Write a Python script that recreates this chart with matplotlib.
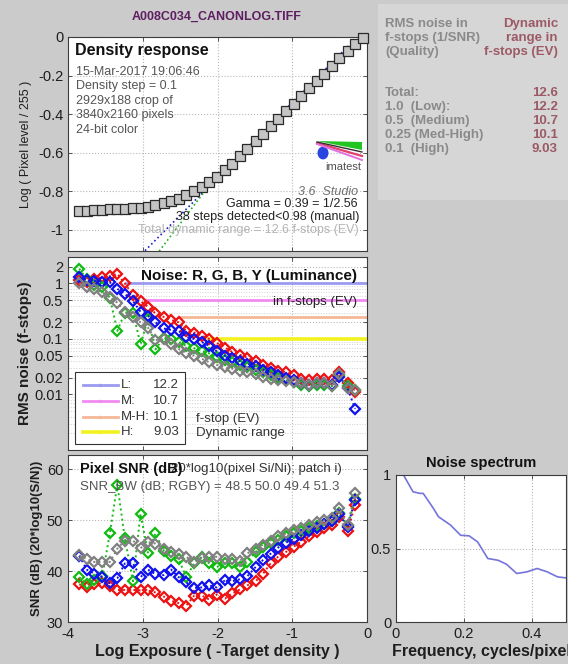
import matplotlib
matplotlib.use("Agg")
import matplotlib.pyplot as plt
from matplotlib.patches import Rectangle, Polygon, Circle
from matplotlib.ticker import FixedLocator, NullFormatter

plt.rcParams["font.family"] = ["Liberation Sans", "DejaVu Sans"]

W, H = 568, 664

file_name = "A008C034_CANONLOG.TIFF"

# grey-scale steps: log exposure (= -target density) and measured log pixel level
log_exposure = [-3.85, -3.75, -3.65, -3.54, -3.44, -3.34, -3.24, -3.13, -3.03, -2.93,
                -2.83, -2.72, -2.62, -2.52, -2.42, -2.31, -2.21, -2.11, -2.01, -1.90,
                -1.80, -1.70, -1.60, -1.49, -1.39, -1.29, -1.19, -1.08, -0.98, -0.88,
                -0.78, -0.67, -0.57, -0.47, -0.37, -0.26, -0.16, -0.06]
log_pixel = [-0.902, -0.900, -0.898, -0.896, -0.894, -0.892, -0.890, -0.888, -0.886, -0.880,
             -0.872, -0.862, -0.851, -0.838, -0.822, -0.800, -0.778, -0.752, -0.724, -0.692,
             -0.657, -0.619, -0.581, -0.539, -0.501, -0.463, -0.425, -0.384, -0.346, -0.307,
             -0.267, -0.228, -0.190, -0.150, -0.110, -0.072, -0.036, -0.005]

gamma = 0.39
gamma_offset = 0.05
gamma_span = [-2.97, -0.12]
toe_slope = 0.51
toe_offset = 0.307
toe_span = [-2.78, -2.15]

# RMS noise in f-stops per patch (first 37 patches)
noise_r = [1.15, 1.05, 1.20, 1.30, 1.35, 1.50, 1.00, 0.62, 0.48, 0.38,
           0.29, 0.25, 0.22, 0.20, 0.14, 0.13, 0.115, 0.10, 0.085, 0.070,
           0.058, 0.052, 0.046, 0.040, 0.034, 0.030, 0.027, 0.025, 0.022, 0.019,
           0.018, 0.019, 0.019, 0.018, 0.025, 0.016, 0.011]
noise_g = [1.85, 1.20, 0.95, 0.85, 0.55, 0.14, 0.30, 0.30, 0.08, 0.23,
           0.065, 0.105, 0.10, 0.09, 0.075, 0.068, 0.062, 0.055, 0.048, 0.042,
           0.038, 0.034, 0.031, 0.028, 0.025, 0.022, 0.020, 0.018, 0.017, 0.015,
           0.014, 0.015, 0.015, 0.014, 0.022, 0.014, 0.012]
noise_b = [1.30, 1.15, 1.12, 1.08, 1.05, 0.80, 0.65, 0.48, 0.31, 0.26,
           0.20, 0.155, 0.145, 0.14, 0.11, 0.10, 0.088, 0.075, 0.060, 0.050,
           0.045, 0.040, 0.036, 0.032, 0.028, 0.025, 0.022, 0.020, 0.018, 0.016,
           0.015, 0.016, 0.016, 0.015, 0.021, 0.013, 0.0055]
noise_y = [1.00, 0.87, 0.80, 0.70, 0.56, 0.45, 0.31, 0.25, 0.20, 0.16,
           0.095, 0.10, 0.08, 0.066, 0.056, 0.050, 0.044, 0.038, 0.034, 0.031,
           0.029, 0.027, 0.025, 0.023, 0.021, 0.019, 0.018, 0.0175, 0.017, 0.016,
           0.015, 0.016, 0.016, 0.0145, 0.023, 0.013, 0.012]

# quality levels and the dynamic range reached at each
quality_names = ["L:", "M:", "M-H:", "H:"]
quality_noise = [1.0, 0.5, 0.25, 0.1]
quality_start = [-3.22, -2.97, -2.50, -2.12]
dynamic_range = [12.2, 10.7, 10.1, 9.03]
total_range = 12.6
quality_colors = ["#9a9af0", "#f08af0", "#f5b896", "#f2f21e"]

# pixel SNR in dB per patch
snr_r = [37.4, 36.9, 37.5, 37.6, 37.0, 36.3, 36.3, 36.3, 36.2, 36.2,
         35.8, 35.0, 34.2, 33.7, 33.2, 35.2, 35.2, 34.4, 35.4, 34.6,
         35.6, 36.4, 37.2, 38.0, 39.5, 41.5, 42.8, 43.8, 44.8, 45.8,
         46.8, 47.6, 48.4, 49.0, 50.6, 47.8, 53.0]
snr_g = [38.8, 37.5, 38.2, 39.1, 47.4, 57.0, 46.5, 38.0, 51.3, 43.5,
         47.4, 44.0, 43.0, 42.4, 38.8, 41.5, 42.8, 41.5, 40.8, 41.5,
         41.5, 40.8, 41.8, 43.8, 44.7, 45.5, 46.2, 46.8, 47.4, 47.9,
         48.4, 48.9, 49.3, 49.8, 51.5, 48.8, 54.2]
snr_b = [43.0, 40.3, 39.5, 38.8, 37.6, 38.6, 41.5, 41.5, 38.8, 40.3,
         39.4, 39.2, 40.3, 38.8, 37.8, 36.7, 36.8, 37.2, 36.8, 38.2,
         38.0, 38.4, 39.0, 40.8, 42.2, 43.4, 44.6, 45.6, 46.3, 47.0,
         47.8, 48.5, 49.2, 49.8, 51.2, 48.6, 54.0]
snr_y = [43.1, 42.4, 41.8, 41.8, 41.8, 44.4, 46.0, 46.0, 44.5, 45.7,
         45.4, 44.4, 43.8, 43.3, 42.8, 41.8, 42.6, 42.8, 42.8, 42.4,
         42.4, 42.0, 43.5, 44.3, 45.2, 46.0, 46.8, 47.4, 48.0, 48.5,
         49.1, 49.6, 50.0, 50.4, 52.3, 49.0, 55.3]
snr_bw = [48.5, 50.0, 49.4, 51.3]

# normalized noise power spectrum
freq = [0.022, 0.05, 0.07, 0.08, 0.11, 0.125, 0.16, 0.19, 0.215, 0.24,
        0.27, 0.30, 0.325, 0.355, 0.385, 0.415, 0.445, 0.475, 0.50]
spectrum = [1.0, 0.886, 0.875, 0.875, 0.773, 0.716, 0.66, 0.59, 0.586, 0.545,
            0.432, 0.42, 0.393, 0.33, 0.341, 0.364, 0.341, 0.307, 0.30]

channel_colors = ["#ee1111", "#11bb11", "#1111ee", "#808080"]

fig = plt.figure(figsize=(W / 100, H / 100), dpi=100, facecolor="#cbcbcb")


def add_ax(left, top, right, bottom):
    ax = fig.add_axes([left / W, 1 - bottom / H, (right - left) / W, (bottom - top) / H])
    ax.set_facecolor("white")
    for s in ax.spines.values():
        s.set_color("#3c3c3c")
        s.set_linewidth(0.8)
    ax.tick_params(direction="in", length=3, width=0.6, color="#3c3c3c",
                   labelsize=10.5, labelcolor="#1e1e1e", top=True, right=True)
    ax.tick_params(which="minor", length=0)
    return ax


def ftext(x, y, s, **kw):
    kw.setdefault("va", "center")
    fig.text(x / W, 1 - y / H, s, **kw)


grid_kw = dict(color="#b8b8b8", linestyle=":", linewidth=0.8)

# --- density response ---
ax1 = add_ax(68, 37, 367, 251)
ax1.grid(True, **grid_kw)
ax1.set_xlim(-4, 0)
ax1.set_ylim(-1.11, 0)
ax1.set_xticks([-4, -3, -2, -1, 0])
ax1.set_xticklabels([])
ax1.set_yticks([-1, -0.8, -0.6, -0.4, -0.2, 0])
ax1.set_yticklabels(["-1", "-0.8", "-0.6", "-0.4", "-0.2", "0"])
gx = list(gamma_span)
ax1.plot(gx, [gamma * v + gamma_offset for v in gx], color="#2020c8", ls=":", lw=1.2)
tx = list(toe_span)
ax1.plot(tx, [toe_slope * v + toe_offset for v in tx], color="#20b020", ls=":", lw=1.2)
ax1.plot(log_exposure, log_pixel, "s-", color="#303030", lw=0.8, ms=6.5,
         mfc="#c4c4c4", mec="#2a2a2a", mew=0.9, clip_on=False, zorder=3)
ax1.set_ylabel("Log ( Pixel level / 255 )", fontsize=9, color="#1e1e1e", labelpad=4)

ftext(75, 51, "Density response", fontsize=11.5, weight="bold", color="#111111")
info = ["15-Mar-2017 19:06:46", "Density step = 0.1", "2929x188 crop of",
        "3840x2160 pixels", "24-bit color"]
for k, line in enumerate(info):
    ftext(76, 72 + 14.4 * k, line, fontsize=9, color="#555555")
ftext(358, 192, "3.6  Studio", fontsize=9, style="italic", color="#707070", ha="right")
ftext(358, 204, "Gamma = %.2f = 1/%.2f" % (gamma, 1 / gamma), fontsize=9, color="#222222", ha="right")
ftext(359, 217, "38 steps detected<0.98 (manual)", fontsize=9, color="#222222", ha="right")
ftext(359, 230, "Total dynamic range = %.1f f-stops (EV)" % total_range, fontsize=9,
      color="#b4b4b4", ha="right")

# imatest logo
def fpt(x, y):
    return (x / W, 1 - y / H)

fig.patches.append(Polygon([fpt(317, 141), fpt(362, 142), fpt(362, 150)], closed=True,
                           transform=fig.transFigure, fc="#22c422", ec="none"))
fig.lines.append(plt.Line2D([317 / W, 362 / W], [1 - 143 / H, 1 - 156 / H],
                            transform=fig.transFigure, color="#e0406a", lw=1.6))
fig.lines.append(plt.Line2D([317 / W, 362 / W], [1 - 142 / H, 1 - 152 / H],
                            transform=fig.transFigure, color="#303030", lw=1.0))
fig.lines.append(plt.Line2D([317 / W, 362 / W], [1 - 144 / H, 1 - 160 / H],
                            transform=fig.transFigure, color="#e070e0", lw=1.4))
fig.patches.append(Circle(fpt(323, 153), 5.5 / W, transform=fig.transFigure,
                          fc="#2a46e0", ec="none"))
ftext(343, 167, "imatest", fontsize=8, color="#505050", ha="center")

# --- noise ---
ax2 = add_ax(68, 257, 367, 450)
ax2.set_yscale("log")
ax2.set_xlim(-4, 0)
ax2.set_ylim(0.001, 3)
ax2.set_xticks([-4, -3, -2, -1, 0])
ax2.set_xticklabels([])
ax2.yaxis.set_major_locator(FixedLocator([0.01, 0.02, 0.05, 0.1, 0.2, 0.5, 1, 2]))
ax2.set_yticklabels(["0.01", "0.02", "0.05", "0.1", "0.2", "0.5", "1", "2"])
ax2.yaxis.set_minor_formatter(NullFormatter())
ax2.grid(True, which="major", **grid_kw)
ax2.grid(True, which="minor", axis="y", color="#d0d0d0", linestyle=":", linewidth=0.7)
for q, x0, c in zip(quality_noise, quality_start, quality_colors):
    ax2.plot([x0, 0], [q, q], color=c, lw=2.6 if c == "#f2f21e" else 2.0, zorder=2)
noise_x = log_exposure[:len(noise_r)]
for ys, c in zip([noise_r, noise_g, noise_b, noise_y], channel_colors):
    ax2.plot(noise_x, ys, "D:", color=c, ms=5, mfc="none", mew=1.6, lw=1.4, zorder=3)
ax2.set_ylabel("RMS noise (f-stops)", fontsize=11, weight="bold", color="#1e1e1e", labelpad=2)
ftext(357, 276, "Noise: R, G, B, Y (Luminance)", fontsize=11, weight="bold",
      color="#111111", ha="right")
ftext(357, 302, "in f-stops (EV)", fontsize=9.5, color="#222222", ha="right")

# legend box for the dynamic range lines
fig.patches.append(Rectangle(fpt(75, 444), 110 / W, 72 / H, transform=fig.transFigure,
                             fc="white", ec="#333333", lw=0.8, zorder=5))
for k, (name, dr, c) in enumerate(zip(quality_names, dynamic_range, quality_colors)):
    yk = 385 + 15.8 * k
    fig.lines.append(plt.Line2D([83 / W, 118 / W], [1 - yk / H, 1 - yk / H], marker=".",
                                markevery=[1], transform=fig.transFigure, color=c,
                                lw=2.6 if k == 3 else 2.0, ms=3, zorder=6))
    fig.lines[-1].set_data([83 / W, 100 / W, 118 / W], [1 - yk / H] * 3)
    ftext(121, yk, name, fontsize=9.5, color="#333333", zorder=7)
    ftext(179, yk, "%.3g" % dr, fontsize=9.5, color="#333333", ha="right", zorder=7)
ftext(196, 419, "f-stop (EV)", fontsize=9.5, color="#333333")
ftext(196, 433, "Dynamic range", fontsize=9.5, color="#333333")

# --- pixel SNR ---
ax3 = add_ax(68, 455, 367, 622)
ax3.grid(True, **grid_kw)
ax3.set_xlim(-4, 0)
ax3.set_ylim(30, 62.8)
ax3.set_xticks([-4, -3, -2, -1, 0])
ax3.set_xticklabels(["-4", "-3", "-2", "-1", "0"])
ax3.set_yticks([30, 40, 50, 60])
for ys, c in zip([snr_r, snr_g, snr_b, snr_y], channel_colors):
    ax3.plot(noise_x, ys, "D:", color=c, ms=5, mfc="none", mew=1.6, lw=1.4)
ax3.set_ylabel("SNR (dB) (20*log10(S/N))", fontsize=9.5, weight="bold", color="#1e1e1e",
               labelpad=3)
ax3.set_xlabel("Log Exposure ( -Target density )", fontsize=11.5, weight="bold",
               color="#1e1e1e", labelpad=2)
ftext(171, 469, "20*log10(pixel Si/Ni); patch i)", fontsize=9.5, color="#333333")
ftext(80, 469, "Pixel SNR (dB)", fontsize=10.5, weight="bold", color="#111111")
ftext(80, 487, "SNR_BW (dB; RGBY) = " + " ".join("%.1f" % v for v in snr_bw),
      fontsize=9.5, color="#555555")

# --- noise spectrum ---
ax4 = add_ax(396, 475, 566, 622)
ax4.grid(True, **grid_kw)
ax4.set_xlim(0, 0.5)
ax4.set_ylim(0, 1)
ax4.set_xticks([0, 0.2, 0.4])
ax4.set_xticklabels(["0", "0.2", "0.4"])
ax4.set_yticks([0, 0.5, 1])
ax4.set_yticklabels(["0", "0.5", "1"])
ax4.plot(freq, spectrum, color="#7474dc", lw=1.2)
ax4.set_title("Noise spectrum", fontsize=10.5, weight="bold", color="#111111", pad=6)
ax4.set_xlabel("Frequency, cycles/pixel", fontsize=11.5, weight="bold", color="#1e1e1e",
               labelpad=2)

# --- summary table ---
fig.patches.append(Rectangle(fpt(378, 200), 190 / W, 196 / H, transform=fig.transFigure,
                             fc="#d6d6d6", ec="none", zorder=0))
head_l = ["RMS noise in", "f-stops (1/SNR)", "(Quality)"]
head_r = ["Dynamic", "range in", "f-stops (EV)"]
for k in range(3):
    ftext(385, 24 + 14 * k, head_l[k], fontsize=9.5, weight="bold", color="#8a8a8a")
    ftext(558, 24 + 14 * k, head_r[k], fontsize=9.5, weight="bold", color="#9c5a66", ha="right")
rows = ["Total:", "1.0  (Low):", "0.5  (Medium)", "0.25 (Med-High)", "0.1  (High)"]
vals = [total_range] + dynamic_range
for k, (r, v) in enumerate(zip(rows, vals)):
    ftext(385, 93 + 14 * k, r, fontsize=9.5, weight="bold", color="#8a8a8a")
    ftext(558, 93 + 14 * k, "%.3g" % v, fontsize=9.5, weight="bold", color="#9c5a66", ha="right")

ftext(217, 17, file_name, fontsize=9, weight="bold", color="#5e1e62", ha="center")

fig.savefig("out.png", dpi=100, facecolor=fig.get_facecolor())
